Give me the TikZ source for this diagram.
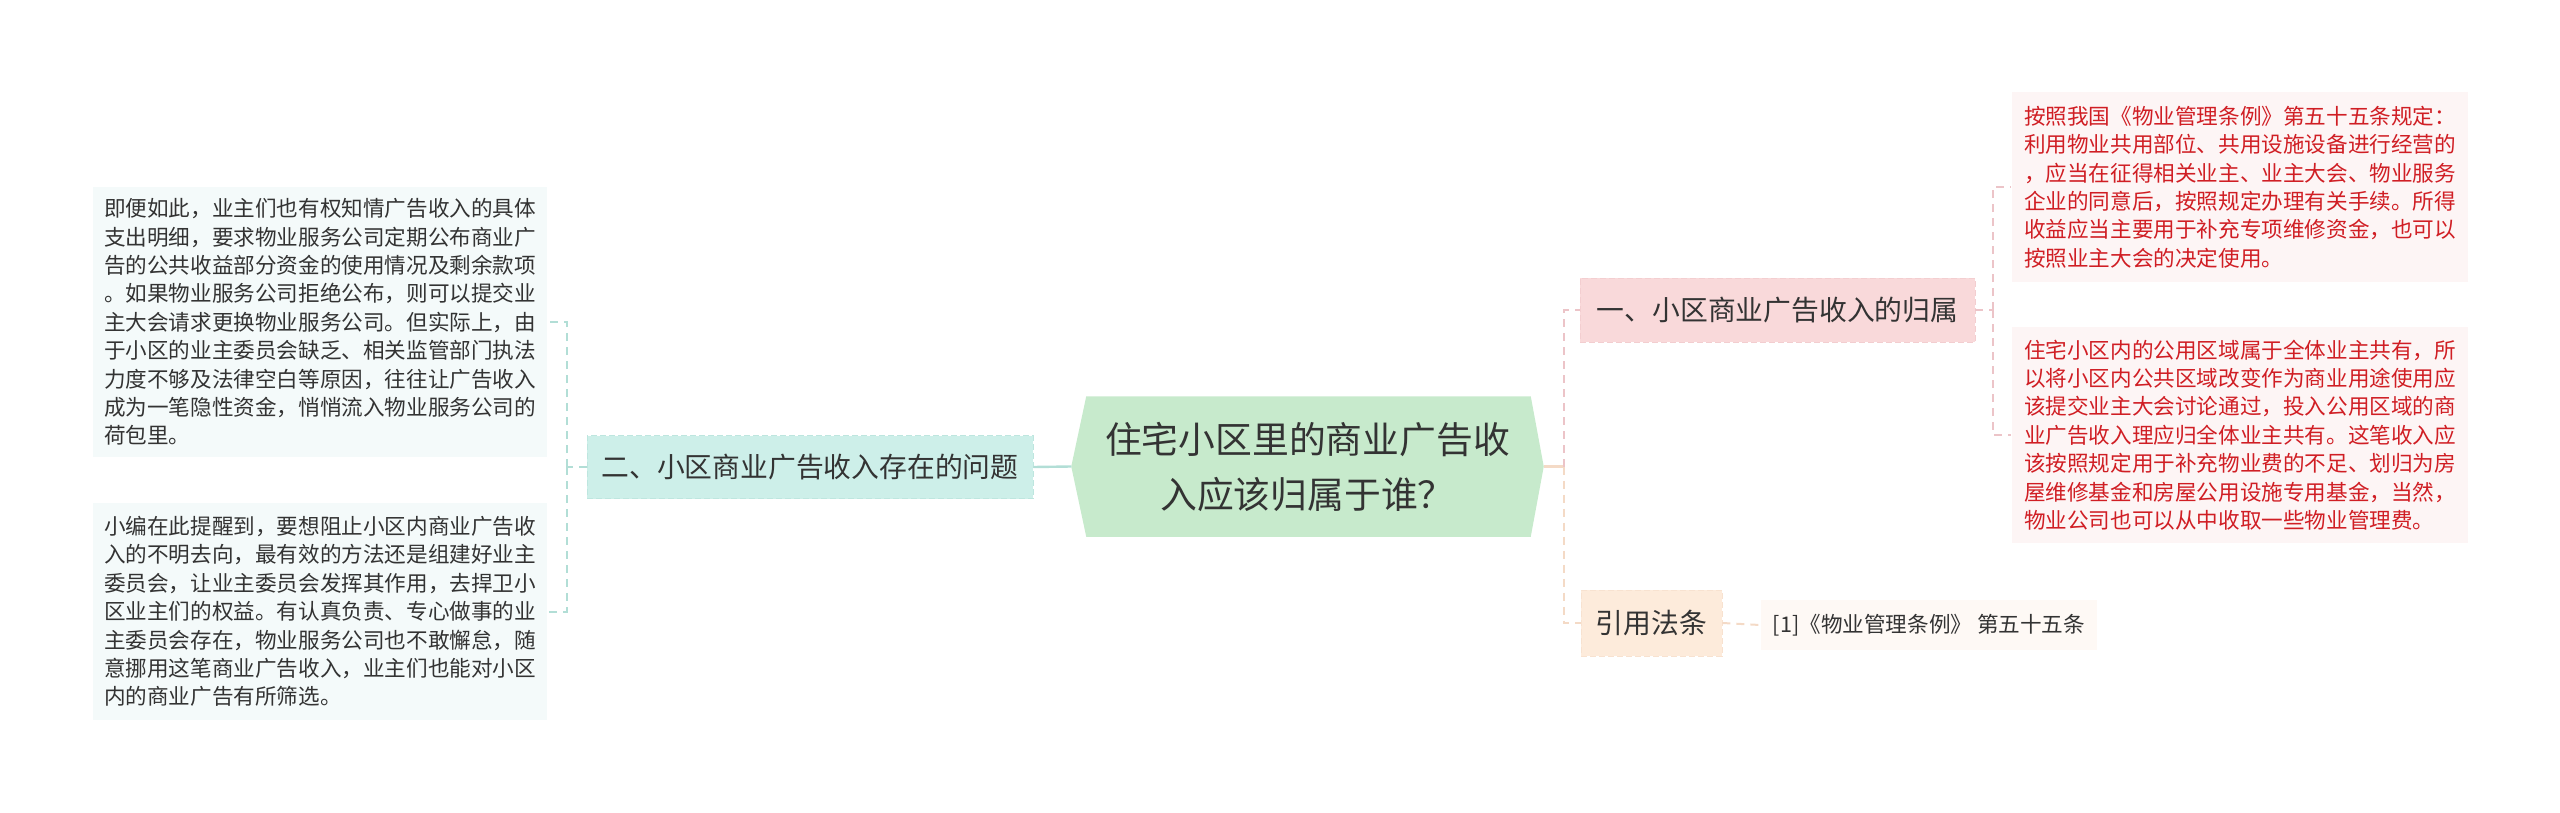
\documentclass[tikz,border=0pt]{standalone}
\usepackage{fontspec}
\setmainfont{Noto Sans CJK SC}
\usepackage{xcolor}
\usetikzlibrary{backgrounds}
\definecolor{inktext}{RGB}{51,51,51}
\definecolor{inkred}{RGB}{208,30,36}
\definecolor{rootgreen}{RGB}{199,234,204}
\definecolor{tealfill}{RGB}{205,239,233}
\definecolor{tealedge}{RGB}{178,222,214}
\definecolor{tealrim}{RGB}{190,230,223}
\definecolor{tealleaf}{RGB}{244,250,250}
\definecolor{pinkfill}{RGB}{249,217,218}
\definecolor{pinkedge}{RGB}{236,196,200}
\definecolor{pinkrim}{RGB}{243,206,208}
\definecolor{pinkleaf}{RGB}{253,245,245}
\definecolor{peachfill}{RGB}{253,235,219}
\definecolor{peachedge}{RGB}{244,218,198}
\definecolor{peachrim}{RGB}{248,226,208}
\definecolor{peachleaf}{RGB}{254,249,245}
\tikzset{every picture/.style={line width=0.75pt}}
\tikzset{
  rootbox/.style={inner sep=0pt, minimum width=235.5pt, minimum height=69.5pt, align=center, text=inktext, font=\fontsize{18.4}{27.5}\selectfont},
  branchbox/.style={inner sep=0pt, draw=#1, dash pattern=on 3pt off 1.5pt, line width=0.4pt, text=inktext, font=\fontsize{13.9}{16}\selectfont},
  leafbox/.style={inner sep=0pt, minimum width=227pt, text width=216pt, align=left, font=\fontsize{10.8}{14.2}\selectfont},
  tealline/.style={draw=tealedge, line width=1.2pt},
  tealdash/.style={draw=tealedge, line width=1pt, dash pattern=on 4pt off 3pt},
  pinkdash/.style={draw=pinkedge, line width=1pt, dash pattern=on 4pt off 3pt},
  peachline/.style={draw=peachedge, line width=1.2pt},
  peachdash/.style={draw=peachedge, line width=1pt, dash pattern=on 4pt off 3pt}
}
\begin{document}
\begin{tikzpicture}[x=0.5pt,y=0.5pt,yscale=-1,xscale=1]
    \path[use as bounding box] (0,0) rectangle (2560,813);
    \node [rootbox] (root) at (1307.5,466.5) {住宅小区里的商业广告收\\入应该归属于谁？};
    \begin{scope}[on background layer]
    \fill[rootgreen] (root.west) -- ([xshift=7.5pt]root.north west) -- ([xshift=-6.5pt]root.north east) -- (root.east) -- ([xshift=-6.5pt]root.south east) -- ([xshift=7.5pt]root.south west) -- cycle;
    \end{scope}
    \node [branchbox=tealrim, fill=tealfill, minimum width=223pt, minimum height=31.5pt] (lb) at (810,467) {二、小区商业广告收入存在的问题};
    \node [leafbox, fill=tealleaf, text=inktext, minimum height=135pt] (ll1) at (320,322) {即便如此，业主们也有权知情广告收入的具体\\支出明细，要求物业服务公司定期公布商业广\\告的公共收益部分资金的使用情况及剩余款项\\。如果物业服务公司拒绝公布，则可以提交业\\主大会请求更换物业服务公司。但实际上，由\\于小区的业主委员会缺乏、相关监管部门执法\\力度不够及法律空白等原因，往往让广告收入\\成为一笔隐性资金，悄悄流入物业服务公司的\\荷包里。};
    \node [leafbox, fill=tealleaf, text=inktext, minimum height=108.5pt] (ll2) at (320,611.5) {小编在此提醒到，要想阻止小区内商业广告收\\入的不明去向，最有效的方法还是组建好业主\\委员会，让业主委员会发挥其作用，去捍卫小\\区业主们的权益。有认真负责、专心做事的业\\主委员会存在，物业服务公司也不敢懈怠，随\\意挪用这笔商业广告收入，业主们也能对小区\\内的商业广告有所筛选。};
    \node [branchbox=pinkrim, fill=pinkfill, minimum width=197.5pt, minimum height=32pt] (rb1) at (1777.5,310) {一、小区商业广告收入的归属};
    \node [branchbox=peachrim, fill=peachfill, minimum width=70.5pt, minimum height=33pt] (rb2) at (1651.5,623) {引用法条};
    \node [leafbox, fill=pinkleaf, text=inkred, minimum width=228pt, minimum height=95pt] (rl1) at (2240,187) {按照我国《物业管理条例》第五十五条规定：\\利用物业共用部位、共用设施设备进行经营的\\，应当在征得相关业主、业主大会、物业服务\\企业的同意后，按照规定办理有关手续。所得\\收益应当主要用于补充专项维修资金，也可以\\按照业主大会的决定使用。};
    \node [leafbox, fill=pinkleaf, text=inkred, minimum width=228pt, minimum height=108pt] (rl2) at (2240,435) {住宅小区内的公用区域属于全体业主共有，所\\以将小区内公共区域改变作为商业用途使用应\\该提交业主大会讨论通过，投入公用区域的商\\业广告收入理应归全体业主共有。这笔收入应\\该按照规定用于补充物业费的不足、划归为房\\屋维修基金和房屋公用设施专用基金，当然，\\物业公司也可以从中收取一些物业管理费。};
    \node [inner sep=0pt, fill=peachleaf, text=inktext, minimum width=168pt, minimum height=25pt, font=\fontsize{10.8}{14.2}\selectfont] (cite) at (1929,625) {[1]《物业管理条例》 第五十五条};
    \draw [tealline] (root.west) -- (lb.east);
    \draw [tealdash] (lb.west) -- ++(-20,0) coordinate (lj);
    \draw [tealdash] (lj) |- (ll1.east);
    \draw [tealdash] (lj) |- (ll2.east);
    \draw [peachline] (root.east) -- ++(20,0) coordinate (rj);
    \draw [pinkdash] (rj) |- (rb1.west);
    \draw [peachdash] (rj) |- (rb2.west);
    \draw [pinkdash] (rb1.east) -- ++(18,0) coordinate (rk);
    \draw [pinkdash] (rk) |- (rl1.west);
    \draw [pinkdash] (rk) |- (rl2.west);
    \draw [peachdash] (rb2.east) -- (cite.west);
\end{tikzpicture}
\end{document}
